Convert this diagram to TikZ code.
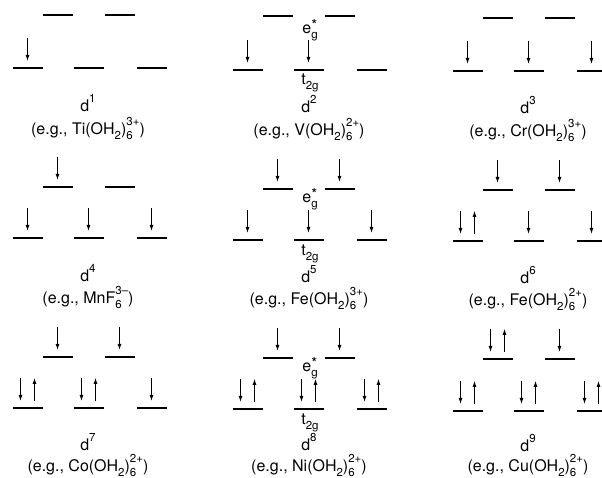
\documentclass[tikz,border=0pt]{standalone}
\usepackage{fontspec}
\setmainfont{TeX Gyre Heros}
\usetikzlibrary{arrows.meta,calc}
% subscript + superscript (superscript wider)
\newcommand\sbsp[2]{\mbox{\rlap{\raisebox{-0.6ex}{\scalebox{0.72}{#1}}}\raisebox{1.0ex}{\scalebox{0.72}{#2}}}}
\newcommand\sbx[1]{\raisebox{-0.6ex}{\scalebox{0.72}{#1}}}
\newcommand\spx[1]{\raisebox{1.0ex}{\scalebox{0.72}{#1}}}
\newcommand\egstar{e\mbox{\rlap{\raisebox{0.3ex}{\scalebox{0.95}{*}}}\raisebox{-0.7ex}{\scalebox{0.72}{g}}}}
% spin arrows
\newcommand\spindn[2][0]{\draw[spin] ($(#2.north)+(#1,-29)$) -- ($(#2.north)+(#1,-6)$);}
\newcommand\spinup[2][0]{\draw[spin] ($(#2.north)+(#1,-6)$) -- ($(#2.north)+(#1,-29)$);}
\newcommand\spinpr[1]{\spindn[-7]{#1}\spinup[7]{#1}}
% level set of a panel: #1 name, #2 x offset, #3 upper y, #4 lower y
\newcommand\levels[4]{%
  \node[lvl] (#1u1) at (#2+57.5,#3) {};
  \node[lvl] (#1u2) at (#2+119.5,#3) {};
  \node[lvl] (#1l1) at (#2+27.5,#4) {};
  \node[lvl] (#1l2) at (#2+88.5,#4) {};
  \node[lvl] (#1l3) at (#2+151.5,#4) {};}
\begin{document}
\begin{tikzpicture}[x=1pt,y=-1pt,
  lvl/.style={fill=black,inner sep=0pt,minimum width=30pt,minimum height=1.8pt},
  spin/.style={line width=0.9pt,-{Latex[length=6pt,width=4pt]}},
  lbl/.style={font=\fontsize{16}{19}\selectfont,inner sep=0pt,anchor=base},
  sym/.style={font=\fontsize{16}{19}\selectfont,inner sep=0pt,anchor=base}]
\useasboundingbox (0,0) rectangle (602,477);
% ---------- row 1
\levels{p1}{0}{15}{68}
\spindn{p1l1}
\node[lbl] (p1d) at (88,111) {d\spx{1}};
\node[lbl] (p1f) at (88,134) {(e.g., Ti(OH\sbx{2})\sbsp{6}{3+})};
\levels{p2}{220}{16}{70}
\spindn{p2l1}\spindn{p2l2}
\node[sym] (p2e) at (310,33) {\egstar};
\node[sym] (p2t) at (310,84) {t\sbx{2g}};
\node[lbl] (p2d) at (309,112) {d\spx{2}};
\node[lbl] (p2f) at (309,135) {(e.g., V(OH\sbx{2})\sbsp{6}{2+})};
\levels{p3}{440}{18}{71}
\spindn{p3l1}\spindn{p3l2}\spindn{p3l3}
\node[lbl] (p3d) at (528,113) {d\spx{3}};
\node[lbl] (p3f) at (528,136) {(e.g., Cr(OH\sbx{2})\sbsp{6}{3+})};
% ---------- row 2
\levels{p4}{0}{187}{238}
\spindn{p4u1}
\spindn{p4l1}\spindn{p4l2}\spindn{p4l3}
\node[lbl] (p4d) at (88,281) {d\spx{4}};
\node[lbl] (p4f) at (88,303) {(e.g., MnF\sbsp{6}{3–})};
\levels{p5}{220}{189}{240}
\spindn{p5u1}\spindn{p5u2}
\spindn{p5l1}\spindn{p5l2}\spindn{p5l3}
\node[sym] (p5e) at (310,202) {\egstar};
\node[sym] (p5t) at (310,255) {t\sbx{2g}};
\node[lbl] (p5d) at (309,282) {d\spx{5}};
\node[lbl] (p5f) at (309,304) {(e.g., Fe(OH\sbx{2})\sbsp{6}{3+})};
\levels{p6}{440}{190}{241}
\spindn{p6u1}\spindn{p6u2}
\spinpr{p6l1}\spindn{p6l2}\spindn{p6l3}
\node[lbl] (p6d) at (528,283) {d\spx{6}};
\node[lbl] (p6f) at (528,305) {(e.g., Fe(OH\sbx{2})\sbsp{6}{2+})};
% ---------- row 3
\levels{p7}{0}{357}{408}
\spindn{p7u1}\spindn{p7u2}
\spinpr{p7l1}\spinpr{p7l2}\spindn{p7l3}
\node[lbl] (p7d) at (88,450) {d\spx{7}};
\node[lbl] (p7f) at (88,471) {(e.g., Co(OH\sbx{2})\sbsp{6}{2+})};
\levels{p8}{220}{358}{409}
\spindn{p8u1}\spindn{p8u2}
\spinpr{p8l1}\spinpr{p8l2}\spinpr{p8l3}
\node[sym] (p8e) at (310,371) {\egstar};
\node[sym] (p8t) at (310,424) {t\sbx{2g}};
\node[lbl] (p8d) at (309,450) {d\spx{8}};
\node[lbl] (p8f) at (309,471) {(e.g., Ni(OH\sbx{2})\sbsp{6}{2+})};
\levels{p9}{440}{359}{411}
\spinpr{p9u1}\spindn{p9u2}
\spinpr{p9l1}\spinpr{p9l2}\spinpr{p9l3}
\node[lbl] (p9d) at (528,451) {d\spx{9}};
\node[lbl] (p9f) at (528,471) {(e.g., Cu(OH\sbx{2})\sbsp{6}{2+})};
\end{tikzpicture}
\end{document}
